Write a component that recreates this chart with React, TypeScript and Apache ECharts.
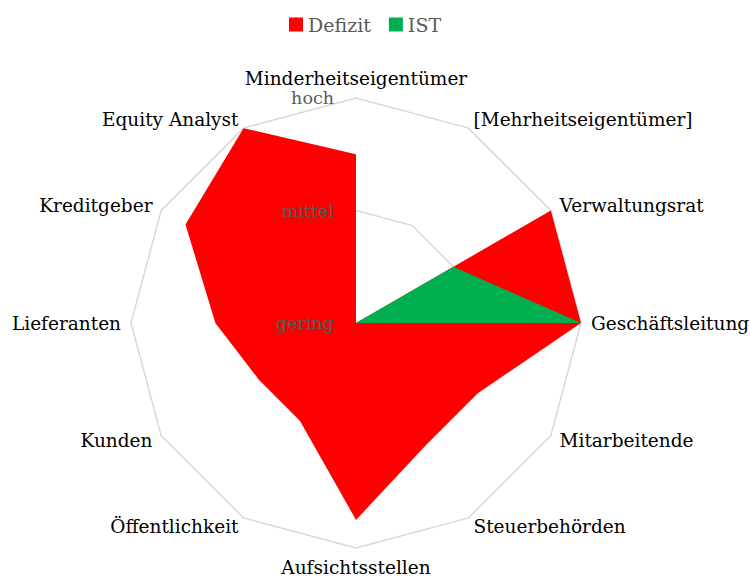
import React, { useEffect, useRef } from "react";
import * as echarts from "echarts";

// clockwise order, starting at the top
const indicatorNames = [
  "Minderheitseigentümer",
  "[Mehrheitseigentümer]",
  "Verwaltungsrat",
  "Geschäftsleitung",
  "Mitarbeitende",
  "Steuerbehörden",
  "Aufsichtsstellen",
  "Öffentlichkeit",
  "Kunden",
  "Lieferanten",
  "Kreditgeber",
  "Equity Analyst",
];
const defizitValues = [1.5, 0, 2, 2, 1.25, 1.25, 1.75, 1, 1, 1.25, 1.75, 2];
const istValues = [0, 0, 1, 2, 0, 0, 0, 0, 0, 0, 0, 0];
const levelLabels = ["gering", "mittel", "hoch"];
const seriesNames = ["Defizit", "IST"];

const FONT = "DejaVu Serif";

// ECharts radar runs counter-clockwise: keep the first item, reverse the rest
const toCCW = <T,>(arr: T[]): T[] => [arr[0], ...arr.slice(1).reverse()];

export default function App() {
  const ref = useRef<HTMLDivElement>(null);
  useEffect(() => {
    if (!ref.current) return;
    const chart = echarts.init(ref.current, null, { renderer: "svg" });
    const radius = 225;
    const names = toCCW(indicatorNames);
    const baseIndicators = names.map((n) => ({ name: n, min: 0, max: 2 }));
    const labelIndicators = names.map((n, i) =>
      i === 0
        ? {
            name: n,
            min: 0,
            max: 2,
            axisLabel: {
              show: true,
              color: "#595959",
              fontFamily: FONT,
              fontSize: 17.5,
              margin: 22,
              showMinLabel: true,
              showMaxLabel: true,
              formatter: (v: number) => levelLabels[Math.round(v)] ?? "",
            },
          }
        : { name: n, min: 0, max: 2 }
    );
    chart.setOption({
      animation: false,
      backgroundColor: "#ffffff",
      legend: {
        data: seriesNames,
        top: 10,
        left: 284,
        itemWidth: 14,
        itemHeight: 14,
        itemGap: 18,
        icon: "rect",
        textStyle: { color: "#595959", fontFamily: FONT, fontSize: 19 },
      },
      radar: [
        {
          center: [356, 323],
          radius,
          shape: "polygon",
          splitNumber: 2,
          startAngle: 90,
          indicator: baseIndicators,
          axisName: { color: "#000000", fontFamily: FONT, fontSize: 18.5 },
          nameGap: 10,
          splitLine: { lineStyle: { color: "#D9D9D9", width: 1.5 } },
          splitArea: { show: false },
          axisLine: { show: false },
          axisTick: { show: false },
          axisLabel: { show: false },
          z: 0,
        },
        {
          center: [356, 323],
          radius,
          shape: "polygon",
          splitNumber: 2,
          startAngle: 90,
          indicator: labelIndicators,
          axisName: { show: false },
          splitLine: { show: false },
          splitArea: { show: false },
          axisLine: { show: false },
          axisTick: { show: false },
          axisLabel: { show: false },
          z: 10,
        },
      ],
      series: [
        {
          type: "radar",
          radarIndex: 0,
          symbol: "none",
          data: [
            {
              name: seriesNames[0],
              value: toCCW(defizitValues),
              itemStyle: { color: "#FF0000" },
              lineStyle: { width: 0, color: "#FF0000" },
              areaStyle: { color: "#FF0000", opacity: 1 },
            },
            {
              name: seriesNames[1],
              value: toCCW(istValues),
              itemStyle: { color: "#00B050" },
              lineStyle: { width: 0, color: "#00B050" },
              areaStyle: { color: "#00B050", opacity: 1 },
            },
          ],
        },
      ],
    });
    return () => chart.dispose();
  }, []);
  return (
    <div
      ref={ref}
      style={{ position: "fixed", left: 0, top: 0, width: 750, height: 583 }}
    />
  );
}
